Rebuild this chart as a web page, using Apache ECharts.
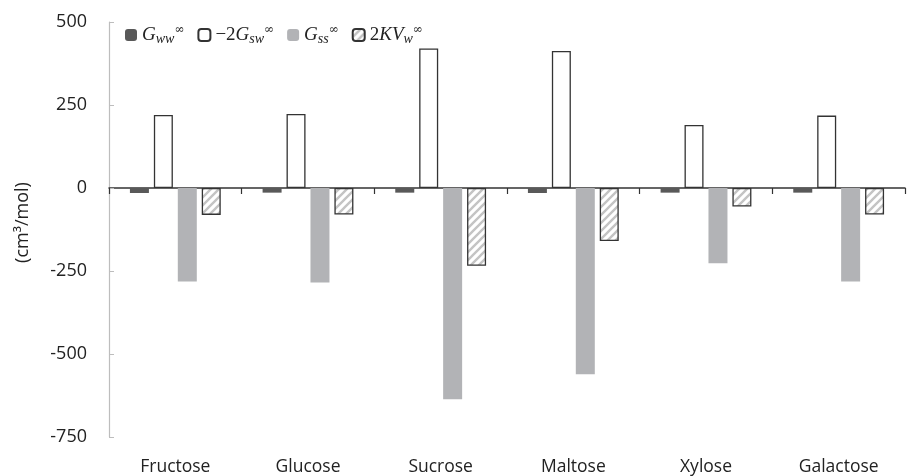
<!DOCTYPE html>
<html>
<head>
<meta charset="utf-8">
<script src="https://cdn.jsdelivr.net/npm/echarts@6/dist/echarts.min.js"></script>
<style>html,body{margin:0;padding:0;background:#fff}#c{width:913px;height:476px}</style>
</head>
<body>
<div id="c"></div>
<script>
const categories = ['Fructose', 'Glucose', 'Sucrose', 'Maltose', 'Xylose', 'Galactose'];
const Gww = [-15, -14, -14, -15, -14, -14];
const minus2Gsw = [220, 223, 420, 413, 190, 218];
const Gss = [-282, -285, -636, -561, -227, -282];
const twoKVw = [-81, -80, -234, -160, -56, -80];
const yTicks = [-750, -500, -250, 0, 250, 500];

function hatch() {
  const c = document.createElement('canvas');
  c.width = 8; c.height = 8;
  const g = c.getContext('2d');
  g.fillStyle = '#ffffff'; g.fillRect(0, 0, 8, 8);
  g.strokeStyle = '#c4c4c4'; g.lineWidth = 2.4;
  g.beginPath();
  g.moveTo(-2, 10); g.lineTo(10, -2);
  g.moveTo(-6, 6); g.lineTo(6, -6);
  g.moveTo(2, 14); g.lineTo(14, 2);
  g.stroke();
  return c;
}

const chart = echarts.init(document.getElementById('c'), null, {renderer: 'canvas'});
const font = '"Open Sans", "Noto Sans", sans-serif';
const legendMap = {
  'Gww': '{g|G}{s|ww}{p|∞}',
  '-2Gsw': '{n|−2}{g|G}{s|sw}{p|∞}',
  'Gss': '{g|G}{s|ss}{p|∞}',
  '2KVw': '{n|2}{g|KV}{s|w}{p|∞}'
};
const barW = 19;
chart.setOption({
  animation: false,
  backgroundColor: '#fff',
  grid: {left: 109, right: 8, top: 22, bottom: 39},
  legend: {
    left: 120, top: 19,
    itemWidth: 12, itemHeight: 12, itemGap: 13,
    data: ['Gww', '-2Gsw', 'Gss', '2KVw'],
    formatter: n => legendMap[n],
    textStyle: {
      rich: {
        g: {fontFamily: '"Liberation Serif", serif', fontStyle: 'italic', fontSize: 19, color: '#222'},
        n: {fontFamily: '"Liberation Serif", serif', fontSize: 19, color: '#222'},
        s: {fontFamily: '"Liberation Serif", serif', fontStyle: 'italic', fontSize: 14, color: '#222', verticalAlign: 'bottom', padding: [8, 0, 0, 0]},
        p: {fontFamily: '"DejaVu Serif", serif', fontSize: 12, color: '#222', verticalAlign: 'top', padding: [0, 0, 8, 0]}
      }
    }
  },
  xAxis: [{
    type: 'category', data: categories, position: 'bottom',
    axisLine: {show: false, onZero: false}, axisTick: {show: false},
    axisLabel: {fontFamily: font, fontSize: 17.5, color: '#222', margin: 21}
  }, {
    type: 'category', data: categories, position: 'bottom',
    axisLine: {show: true, onZero: true, lineStyle: {color: '#333', width: 1.5}},
    axisTick: {show: true, length: 6, lineStyle: {color: '#333', width: 1.2}},
    axisLabel: {show: false}
  }],
  yAxis: {
    type: 'value', min: -750, max: 500, interval: 250,
    axisLine: {show: true, lineStyle: {color: '#bdbdbd', width: 1.2}},
    axisTick: {show: true, inside: true, length: 5, lineStyle: {color: '#bdbdbd'}},
    splitLine: {show: false},
    axisLabel: {fontFamily: font, fontSize: 18, color: '#222', margin: 22,
      formatter: v => yTicks.includes(v) ? String(v) : ''},
    name: '(cm³/mol)', nameLocation: 'middle', nameRotate: 90, nameGap: 77,
    nameTextStyle: {fontFamily: font, fontSize: 18, color: '#222', padding: [0, 0, 0, 14]}
  },
  series: [
    {name: 'Gww', type: 'bar', data: Gww, barWidth: barW, barGap: '26%',
      itemStyle: {color: '#595959'}},
    {name: '-2Gsw', type: 'bar', data: minus2Gsw, barWidth: barW, barGap: '26%',
      itemStyle: {color: '#ffffff', borderColor: '#333', borderWidth: 1.3}},
    {name: 'Gss', type: 'bar', data: Gss, barWidth: barW, barGap: '26%',
      itemStyle: {color: '#b2b3b6'}},
    {name: '2KVw', type: 'bar', data: twoKVw, barWidth: barW, barGap: '26%',
      itemStyle: {color: {image: hatch(), repeat: 'repeat'}, borderColor: '#333', borderWidth: 1.3}}
  ]
});
</script>
</body>
</html>
